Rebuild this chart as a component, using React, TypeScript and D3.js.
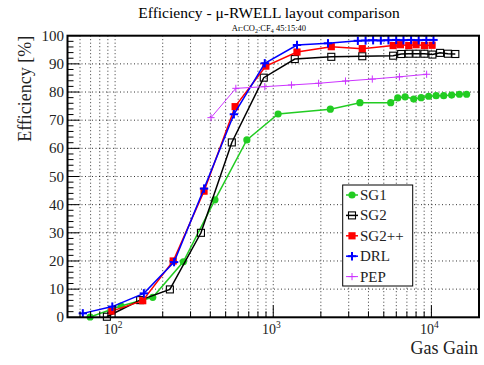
import React from "react";
import * as d3 from "d3";

// values
const sg1Gain = [69.5, 109, 173, 270, 428, 681, 1073, 2296, 3532, 5530, 6125, 6820, 7730, 8610, 9610, 10710, 11960, 13430, 15030, 16700];
const sg1Eff = [0.1, 4.0, 7.1, 19.7, 41.7, 63.0, 72.2, 73.9, 76.2, 76.2, 77.9, 78.3, 77.5, 78.0, 78.5, 78.7, 78.7, 78.9, 79.2, 79.2];

const sg2Gain = [88.7, 144, 222, 349, 547, 871, 1368, 2328, 3656, 5730, 6440, 7190, 8040, 9030, 10150, 11350, 12710, 14170];
const sg2Eff = [0.2, 6.1, 9.9, 30.0, 62.1, 85.1, 91.7, 92.5, 92.7, 92.9, 93.5, 93.6, 93.6, 93.6, 93.3, 93.9, 93.6, 93.5];

const sg2ppGain = [95.3, 149.5, 233, 365, 574, 898, 1413, 2328, 3656, 5730, 6370, 7190, 8000, 9030, 10100];
const sg2ppEff = [2.2, 5.9, 20.0, 44.8, 74.8, 89.2, 94.2, 96.1, 95.4, 96.5, 96.8, 96.5, 96.8, 96.5, 96.6];

const drlGain = [62.5, 96, 152, 236, 365, 564, 884, 1413, 2219, 3427, 3837, 4280, 4790, 5350, 5990, 6660, 7440, 8310, 9290, 10310];
const drlEff = [1.4, 3.8, 8.5, 19.6, 45.7, 72.1, 90.2, 96.7, 97.3, 98.2, 98.3, 98.4, 98.3, 98.4, 98.5, 98.4, 98.5, 98.4, 98.5, 98.5];

const pepGain = [404, 580, 884, 1304, 1936, 2863, 4230, 6280, 9330];
const pepEff = [70.9, 81.3, 81.9, 82.5, 83.1, 83.9, 84.6, 85.4, 86.3];

const yTicks = [0, 10, 20, 30, 40, 50, 60, 70, 80, 90, 100];
const xDecades = [2, 3, 4];

const FONT = "Liberation Serif";

type Series = {
  name: string;
  gain: number[];
  eff: number[];
  color: string;
  marker: "circle" | "openSquare" | "square" | "plus" | "thinPlus";
  width: number;
};

const series: Series[] = [
  { name: "SG1", gain: sg1Gain, eff: sg1Eff, color: "#22cc22", marker: "circle", width: 1.5 },
  { name: "SG2", gain: sg2Gain, eff: sg2Eff, color: "#000000", marker: "openSquare", width: 1.5 },
  { name: "SG2++", gain: sg2ppGain, eff: sg2ppEff, color: "#ff0000", marker: "square", width: 1.5 },
  { name: "DRL", gain: drlGain, eff: drlEff, color: "#0000ff", marker: "plus", width: 1.5 },
  { name: "PEP", gain: pepGain, eff: pepEff, color: "#cc33ff", marker: "thinPlus", width: 1 },
];

function Marker({ kind, x, y, color }: { kind: Series["marker"]; x: number; y: number; color: string }) {
  if (kind === "circle") return <circle cx={x} cy={y} r={3.6} fill={color} />;
  if (kind === "openSquare")
    return <rect x={x - 3.5} y={y - 3.5} width={7} height={7} fill="none" stroke={color} strokeWidth={1.1} />;
  if (kind === "square") return <rect x={x - 3.6} y={y - 3.6} width={7.2} height={7.2} fill={color} />;
  const s = kind === "plus" ? 4.2 : 3.6;
  const w = kind === "plus" ? 2 : 1;
  return (
    <g stroke={color} strokeWidth={w}>
      <line x1={x - s} x2={x + s} y1={y} y2={y} />
      <line x1={x} x2={x} y1={y - s} y2={y + s} />
    </g>
  );
}

export default function App() {
  const left = 67.5, right = 479, top = 35.7, bottom = 317.3;
  const x = d3.scaleLog().domain([50, 20000]).range([left, right]);
  const y = d3.scaleLinear().domain([0, 100]).range([bottom, top]);

  // log grid positions: every integer multiple inside each decade
  const xGrid: number[] = [];
  for (let p = 1; p <= 4; p++) {
    for (let m = 1; m <= 9; m++) {
      const v = m * Math.pow(10, p);
      if (v > 50 && v < 20000) xGrid.push(v);
    }
  }
  const yMinor = d3.range(0, 101, 2).filter((v) => v % 10 !== 0);

  const line = d3.line<[number, number]>().x((d) => x(d[0])).y((d) => y(d[1]));

  const legendX = 342.7, legendY = 185, legendW = 70, legendH = 101;

  return (
    <svg width={484} height={365} style={{ position: "absolute", left: 0, top: 0, background: "#fff", fontFamily: FONT }}>
      <rect width={484} height={365} fill="#fff" />

      {/* title */}
      <text x={269} y={18} textAnchor="middle" fontSize={15.5}>
        Efficiency - μ-RWELL layout comparison
      </text>
      <text x={269} y={30.5} textAnchor="middle" fontSize={8.5}>
        Ar:CO<tspan fontSize={6} dy={2}>2</tspan>
        <tspan dy={-2}>:CF</tspan>
        <tspan fontSize={6} dy={2}>4</tspan>
        <tspan dy={-2}> 45:15:40</tspan>
      </text>

      {/* grid */}
      <g stroke="#000" strokeWidth={0.8} strokeDasharray="1,2.5">
        {xGrid.map((v) => (
          <line key={"gx" + v} x1={x(v)} x2={x(v)} y1={top} y2={bottom} />
        ))}
        {yTicks.slice(1, -1).map((v) => (
          <line key={"gy" + v} x1={left} x2={right} y1={y(v)} y2={y(v)} />
        ))}
      </g>

      {/* series */}
      {series.map((s) => {
        const pts = s.gain.map((g, i) => [g, s.eff[i]] as [number, number]);
        return (
          <g key={s.name}>
            <path d={line(pts) || ""} fill="none" stroke={s.color} strokeWidth={s.width} />
            {pts.map((p, i) => (
              <Marker key={i} kind={s.marker} x={x(p[0])} y={y(p[1])} color={s.color} />
            ))}
          </g>
        );
      })}

      {/* axis ticks */}
      <g stroke="#000" strokeWidth={1}>
        {yTicks.map((v) => (
          <line key={"ty" + v} x1={left} x2={left + 12} y1={y(v)} y2={y(v)} />
        ))}
        {yMinor.map((v) => (
          <line key={"tym" + v} x1={left} x2={left + 6} y1={y(v)} y2={y(v)} />
        ))}
        {xGrid.map((v) => {
          const major = Math.log10(v) % 1 === 0;
          return <line key={"tx" + v} x1={x(v)} x2={x(v)} y1={bottom} y2={bottom - (major ? 12 : 6)} />;
        })}
      </g>

      {/* frame */}
      <rect x={left} y={top} width={right - left} height={bottom - top} fill="none" stroke="#000" strokeWidth={2} />

      {/* tick labels */}
      <g fontSize={15} fill="#222">
        {yTicks.map((v) => (
          <text key={"ly" + v} x={64} y={y(v) + 5} textAnchor="end">
            {v}
          </text>
        ))}
        {xDecades.map((p) => (
          <text key={"lx" + p} x={x(Math.pow(10, p)) - 2} y={334} textAnchor="middle" fontSize={14}>
            10<tspan fontSize={9.5} dy={-6}>{p}</tspan>
          </text>
        ))}
      </g>

      {/* axis titles */}
      <text x={478} y={354} textAnchor="end" fontSize={18} fill="#222">
        Gas Gain
      </text>
      <text transform={`translate(31,${top}) rotate(-90)`} textAnchor="end" fontSize={18} fill="#222">
        Efficiency [%]
      </text>

      {/* legend */}
      <rect x={legendX} y={legendY} width={legendW} height={legendH} fill="#fff" stroke="#000" strokeWidth={1} />
      {series.map((s, i) => {
        const ly = legendY + 10 + i * 20.4;
        return (
          <g key={"lg" + s.name}>
            <line x1={346} x2={358} y1={ly} y2={ly} stroke={s.color} strokeWidth={s.width} />
            <Marker kind={s.marker} x={352} y={ly} color={s.color} />
            <text x={360} y={ly + 5} fontSize={15} fill="#222">
              {s.name}
            </text>
          </g>
        );
      })}
    </svg>
  );
}
